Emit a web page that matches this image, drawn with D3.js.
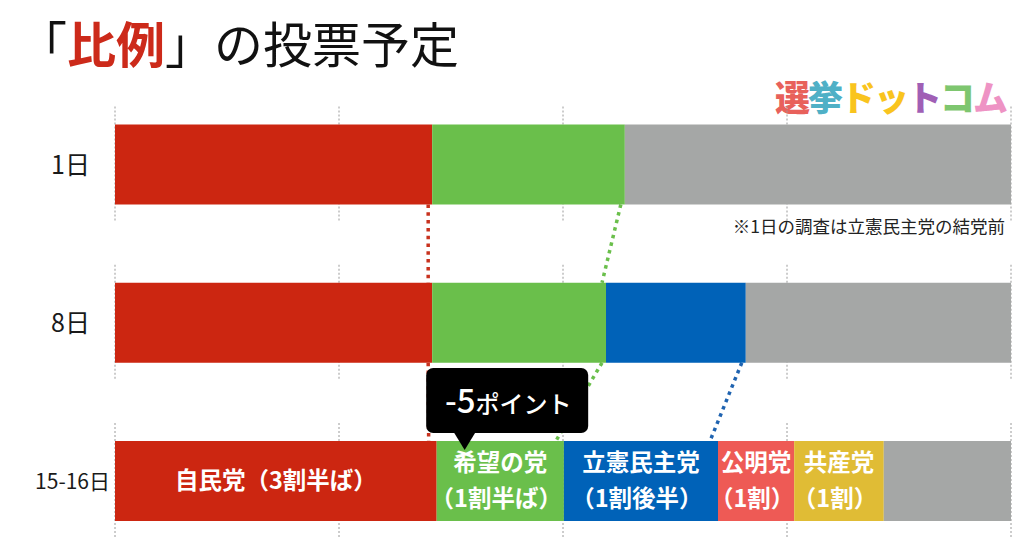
<!DOCTYPE html>
<html><head><meta charset="utf-8">
<script src="https://cdn.jsdelivr.net/npm/d3@7"></script>
<style>
html,body{margin:0;padding:0;background:#fff;}
svg{display:block;font-family:"Noto Sans CJK JP","Noto Sans",sans-serif;}
</style></head>
<body>
<svg id="chart" width="1024" height="555"></svg>
<script>
// ---- data ----
const rows = ["1日", "8日", "15-16日"];
const parties = ["自民党", "希望の党", "立憲民主党", "公明党", "共産党", "その他"];
const jimin  = [35.4, 35.4, 35.9];
const kibou  = [21.5, 19.4, 14.2];
const rikken = [0, 15.6, 17.2];
const komei  = [0, 0, 8.5];
const kyosan = [0, 0, 10.0];
const other  = [43.1, 29.6, 14.2];
const ticks  = [0, 25, 50, 75, 100];
const rowLabels3 = [["自民党（3割半ば）"], ["希望の党", "（1割半ば）"], ["立憲民主党", "（1割後半）"], ["公明党", "（1割）"], ["共産党", "（1割）"], []];
const connectors = [
  {party: 0, from: 0, to: 1}, {party: 0, from: 1, to: 2},
  {party: 1, from: 0, to: 1}, {party: 1, from: 1, to: 2},
  {party: 2, from: 1, to: 2}
];
const calloutText = ["-5", "ポイント"];
const noteText = "※1日の調査は立憲民主党の結党前";
const logoChars = ["選", "挙", "ド", "ッ", "ト", "コ", "ム"];

const colors = ["#cc2611", "#6abf4b", "#0062b8", "#ee5a55", "#e0bc35", "#a5a7a6"];
const connColors = ["#c8321e", "#6abf4b", "#1f63b0"];
const logoColors = ["#e8615b", "#4fb0c6", "#f9c41e", "#f9c41e", "#a05fb5", "#7ec66f", "#ee93c4"];

const series = [jimin, kibou, rikken, komei, kyosan, other];

// ---- scales ----
const svg = d3.select("#chart");
const x = d3.scaleLinear().domain([0, 100]).range([115, 1011]);
const yc = d3.scalePoint().domain(rows).range([164.5, 481]);
const barH = 80;

// stacked
const stack = rows.map((r, i) => {
  let acc = 0;
  return series.map((s, p) => { const seg = {row: r, ri: i, p, x0: acc, x1: acc + s[i]}; acc += s[i]; return seg; });
});

// title
const title = svg.append("text").attr("x", 18).attr("y", 63).attr("font-size", 49).attr("fill", "#111");
title.append("tspan").text("「");
title.append("tspan").text("比例").attr("fill", "#cc2a1a").attr("font-weight", 700);
title.append("tspan").text("」の投票予定");

// logo
const logo = svg.append("g").attr("transform", "translate(775,111)");
logo.selectAll("text").data(logoChars).join("text")
  .attr("x", (d, i) => i * 33)
  .attr("font-size", 35)
  .attr("font-weight", 900)
  .attr("fill", (d, i) => logoColors[i])
  .text(d => d);

// gridlines
const grid = svg.append("g");
rows.forEach(r => {
  grid.selectAll(null).data(ticks).join("line")
    .attr("x1", d => x(d)).attr("x2", d => x(d))
    .attr("y1", yc(r) - barH / 2 - 18).attr("y2", yc(r) + barH / 2 + 18)
    .attr("stroke", "#9a9a9a").attr("stroke-width", 1).attr("stroke-dasharray", "2,2");
});

// connectors
svg.append("g").selectAll("line").data(connectors).join("line")
  .attr("x1", d => x(stack[d.from][d.party].x1) - 4)
  .attr("y1", d => yc(rows[d.from]) + barH / 2)
  .attr("x2", d => x(stack[d.to][d.party].x1) - (d.from === 0 ? 4 : 8))
  .attr("y2", d => yc(rows[d.to]) - barH / 2)
  .attr("stroke", d => connColors[d.party])
  .attr("stroke-width", 3.5)
  .attr("stroke-dasharray", "3.5,4.3");

// bars
svg.append("g").selectAll("g").data(stack).join("g")
  .selectAll("rect").data(d => d.filter(s => s.x1 > s.x0)).join("rect")
  .attr("x", d => x(d.x0)).attr("width", d => x(d.x1) - x(d.x0))
  .attr("y", d => yc(d.row) - barH / 2).attr("height", barH)
  .attr("fill", d => colors[d.p]);

// row labels
svg.append("g").selectAll("text").data(rows).join("text")
  .attr("x", (d, i) => i === 2 ? 110 : 90)
  .attr("y", d => yc(d))
  .attr("dy", "0.36em")
  .attr("text-anchor", "end")
  .attr("font-size", (d, i) => i === 2 ? 21 : 25)
  .attr("fill", "#1a1a1a")
  .text(d => d);

// segment labels (last row)
const last = stack[2];
const lab = svg.append("g");
last.forEach((s, p) => {
  const lines = rowLabels3[p];
  if (!lines.length) return;
  const cx = (x(s.x0) + x(s.x1)) / 2;
  const cy = yc(s.row);
  const lh = 36;
  lines.forEach((t, k) => {
    lab.append("text")
      .attr("x", cx + (t.startsWith("（") ? -4 : 0))
      .attr("y", cy + (k - (lines.length - 1) / 2) * lh)
      .attr("dy", "0.36em")
      .attr("text-anchor", "middle")
      .attr("font-size", 23.5).attr("font-weight", 700)
      .attr("fill", "#fff")
      .text(t);
  });
});

// note
svg.append("text").attr("x", 1005).attr("y", 233).attr("text-anchor", "end")
  .attr("font-size", 17.5).attr("fill", "#222").text(noteText);

// callout
const bx0 = x(jimin[1]) - 6, bx1 = bx0 + 162, by0 = 368, by1 = 433;
const tipX = x(jimin[2]) + 28;
const co = svg.append("g");
co.append("rect").attr("x", bx0).attr("y", by0).attr("width", bx1 - bx0).attr("height", by1 - by0)
  .attr("rx", 7).attr("fill", "#000");
co.append("path").attr("d", `M${tipX - 11},${by1 - 1} L${tipX + 11},${by1 - 1} L${tipX},${yc(rows[2]) - barH / 2 + 9} Z`).attr("fill", "#000");
const ct = co.append("text").attr("x", (bx0 + bx1) / 2 + 1).attr("y", 413).attr("text-anchor", "middle").attr("fill", "#fff").attr("font-weight", 500);
ct.append("tspan").attr("font-size", 33).text(calloutText[0]);
ct.append("tspan").attr("font-size", 24).text(calloutText[1]);
</script>
</body></html>
